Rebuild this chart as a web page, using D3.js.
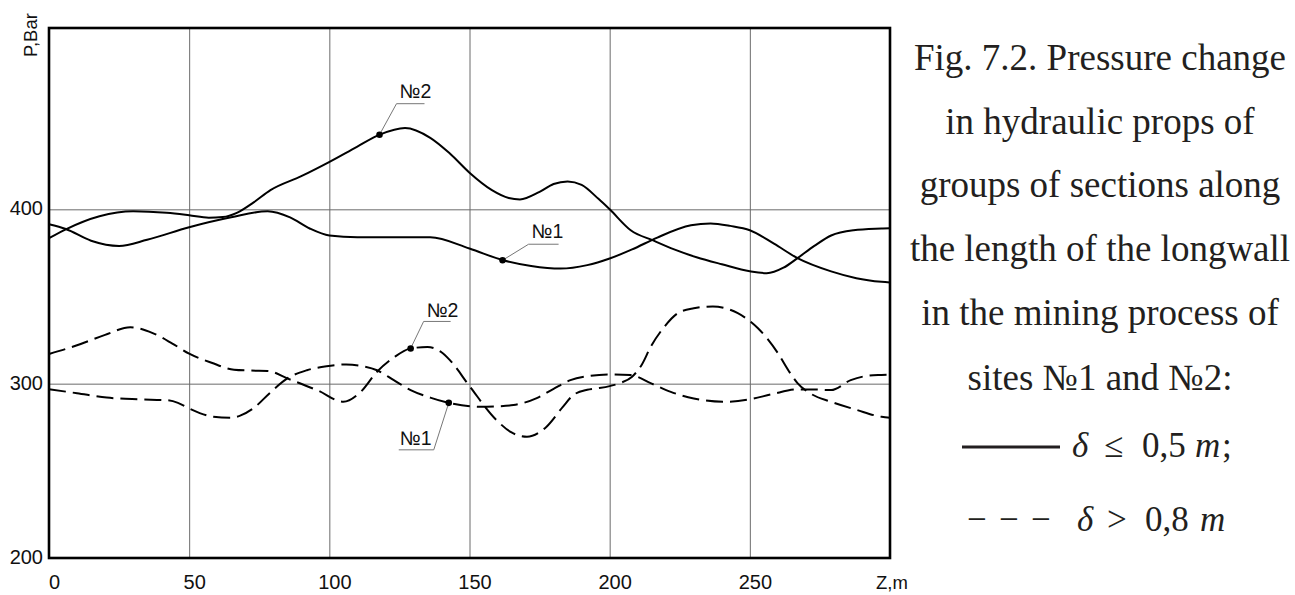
<!DOCTYPE html>
<html><head><meta charset="utf-8">
<script src="https://cdn.jsdelivr.net/npm/d3@7"></script>
<style>body{margin:0;background:#fff;} svg{display:block}</style>
</head><body>
<svg id="chart" width="1295" height="595"></svg>
<script>
// ---- data ----
const zTicks = [0, 50, 100, 150, 200, 250];
const pTicks = [200, 300, 400];
const pGrid = [300, 400];

// solid (delta <= 0.5 m), site No1
const zSolid1 = [0, 6, 15, 25, 35, 50, 65, 78, 86, 93, 100, 110, 125, 136, 150, 162, 172, 182.5, 192, 200, 208, 217, 229, 236, 243, 250, 258.6, 267, 279, 288, 297, 300];
const pSolid1 = [391.4, 388.7, 382, 379, 382.5, 389.7, 395.4, 398.9, 395.4, 389, 385, 384, 384, 384, 377.5, 370.8, 367.5, 366, 368, 371.8, 377, 383.8, 390.8, 391.9, 390.5, 388, 380.3, 372, 364.4, 360.5, 358.4, 358];
// solid, site No2
const zSolid2 = [0, 6, 18, 30, 42, 50, 57, 62, 67, 73, 79, 90, 100.4, 110, 118, 127, 136, 143, 150, 158, 164, 168, 175, 180, 185, 190, 196, 200, 207.5, 215.7, 223, 231, 240, 250, 256, 262, 267, 273, 279, 287, 297, 300];
const pSolid2 = [383.4, 388.5, 396, 398.9, 398, 396.6, 395.2, 395.6, 398, 404, 411, 419, 427.5, 436, 442.8, 446.6, 441, 432, 421, 411, 406.5, 405.7, 410, 414.5, 416, 414, 406, 400, 388, 382, 377, 372.5, 368.5, 364.5, 363.4, 366.5, 372, 379, 385, 388, 389, 389.2];
// dashed (delta > 0.8 m), site No1
const zDash1 = [0, 10, 20.6, 32.5, 42, 46, 50, 58.6, 64.6, 68, 73, 79, 85, 92, 99, 106, 112, 117, 123, 129, 136, 142.6, 154, 160, 165.7, 174, 180, 186, 193, 200, 207.5, 215, 221.8, 230, 240.7, 250, 258, 267, 273, 279, 286, 292, 297, 300];
const pDash1 = [296.8, 294.5, 292, 291, 290.5, 289, 285.8, 281, 280.4, 281.5, 286, 295, 303, 307.7, 310, 311, 310, 307.7, 302, 296.3, 292, 289, 286.7, 287, 287.7, 291.7, 297, 302, 304.5, 305.3, 304.9, 300, 295.3, 291.5, 289.6, 291, 294, 296.7, 296.7, 296.3, 302, 304.5, 305, 305.2];
// dashed, site No2
const zDash2 = [0, 10, 20, 29, 37, 44, 50, 58, 66, 72, 78, 85, 96, 105, 111, 117, 123, 129, 135, 140, 143, 150, 159.5, 165, 170.5, 177.4, 183.3, 187, 192, 196, 200, 204, 208, 211.5, 214.6, 219.5, 224.3, 230, 236.8, 245.7, 252.9, 260, 264, 267, 272, 279, 288, 297, 300];
const pDash2 = [317, 322, 328, 332.3, 329, 323, 317.2, 312, 308, 307.5, 307.3, 303, 296, 289.6, 295, 306.8, 315, 320.2, 321, 318, 313.5, 298.6, 279.3, 272, 269.5, 275.2, 286.7, 293.4, 296.5, 297.4, 298.6, 300.5, 304, 311, 321, 332.6, 340.4, 343.2, 344.3, 340.4, 331.8, 317.5, 307, 300.3, 294, 289.6, 285, 281, 280.5];

// labelled points on the curves
const markerNames = ["№2", "№1", "№2", "№1"];
const markerZ = [117.9, 161.8, 129, 142.6];
const markerP = [442.8, 370.8, 320.2, 289];

// ---- layout ----
const svg = d3.select("#chart");
const x = d3.scaleLinear().domain([0, 300]).range([49, 890]);
const y = d3.scaleLinear().domain([200, 504]).range([558, 28]);
const sansFont = "'Liberation Sans', Arial, sans-serif";
const serifFont = "'Liberation Serif', 'Times New Roman', serif";

// grid
const gx = svg.append("g").attr("transform", `translate(0,${y(200)})`)
  .call(d3.axisBottom(x).tickValues(zTicks.slice(1)).tickSize(-(y(200) - y(504))).tickFormat(""));
gx.select(".domain").remove();
gx.selectAll("line").attr("stroke", "#6b6b6b").attr("stroke-width", 1);

const gy = svg.append("g").attr("transform", `translate(${x(0)},0)`)
  .call(d3.axisLeft(y).tickValues(pGrid).tickSize(-(x(300) - x(0))).tickFormat(""));
gy.select(".domain").remove();
gy.selectAll("line").attr("stroke", "#6b6b6b").attr("stroke-width", 1);

// curves
const line = d3.line().x(d => x(d[0])).y(d => y(d[1])).curve(d3.curveMonotoneX);
const series = [
  {z: zSolid1, p: pSolid1, dash: null},
  {z: zSolid2, p: pSolid2, dash: null},
  {z: zDash1, p: pDash1, dash: "17,7"},
  {z: zDash2, p: pDash2, dash: "17,7"}
];
series.forEach(s => {
  svg.append("path")
    .datum(d3.zip(s.z, s.p))
    .attr("d", line)
    .attr("fill", "none")
    .attr("stroke", "#000")
    .attr("stroke-width", 2)
    .attr("stroke-dasharray", s.dash);
});

// frame
svg.append("rect")
  .attr("x", x(0)).attr("y", y(504))
  .attr("width", x(300) - x(0)).attr("height", y(200) - y(504))
  .attr("fill", "none").attr("stroke", "#000").attr("stroke-width", 2.6);

// tick labels
const ax = svg.append("g").attr("transform", `translate(0,${y(200)})`)
  .call(d3.axisBottom(x).tickValues(zTicks).tickSize(0).tickPadding(17));
ax.select(".domain").remove();
ax.selectAll("text").attr("font-family", sansFont).attr("font-size", 20).attr("fill", "#111").attr("dx", 5);

const ay = svg.append("g").attr("transform", `translate(${x(0)},0)`)
  .call(d3.axisLeft(y).tickValues(pTicks).tickSize(0).tickPadding(6));
ay.select(".domain").remove();
ay.selectAll("text").attr("font-family", sansFont).attr("font-size", 20).attr("fill", "#111").attr("dy", "0.28em");

// axis titles
svg.append("text").attr("transform", "translate(37,57) rotate(-90)")
  .attr("font-family", sansFont).attr("font-size", 18.5).attr("fill", "#111").text("P,Bar");
svg.append("text").attr("x", 892).attr("y", 589).attr("text-anchor", "middle")
  .attr("font-family", sansFont).attr("font-size", 18.5).attr("fill", "#111").text("Z,m");

// callouts: leader end offset, underline length, text offset
const callouts = [
  {lx: 17, ly: -31, ux: 28, tx: 20, ty: -37},
  {lx: 26, ly: -16, ux: 30, tx: 29, ty: -22},
  {lx: 13, ly: -27, ux: 27, tx: 16, ty: -31},
  {lx: -15, ly: 47, ux: -35, tx: -49, ty: 42}
];
markerNames.forEach((name, i) => {
  const mx = x(markerZ[i]), my = y(markerP[i]);
  const c = callouts[i];
  svg.append("line").attr("x1", mx).attr("y1", my).attr("x2", mx + c.lx).attr("y2", my + c.ly)
    .attr("stroke", "#777").attr("stroke-width", 1);
  svg.append("line").attr("x1", mx + c.lx).attr("y1", my + c.ly).attr("x2", mx + c.lx + c.ux).attr("y2", my + c.ly)
    .attr("stroke", "#777").attr("stroke-width", 1);
  svg.append("circle").attr("cx", mx).attr("cy", my).attr("r", 3.3).attr("fill", "#000");
  svg.append("text").attr("x", mx + c.tx).attr("y", my + c.ty)
    .attr("font-family", sansFont).attr("font-size", 19.5).attr("fill", "#111").text(name);
});

// caption
const caption = ["Fig. 7.2. Pressure change", "in hydraulic props of", "groups of sections along",
  "the length of the longwall", "in the mining process of", "sites №1 and №2:"];
const captionY = [70, 134, 197, 261, 325, 390];
caption.forEach((t, i) => {
  svg.append("text").attr("x", 1100).attr("y", captionY[i]).attr("text-anchor", "middle")
    .attr("font-family", serifFont).attr("font-size", 37).attr("fill", "#231f20").text(t);
});

// legend lines (math)
svg.append("line").attr("x1", 962).attr("x2", 1060).attr("y1", 447).attr("y2", 447)
  .attr("stroke", "#231f20").attr("stroke-width", 3);
function mathPiece(txt, px, py, italic) {
  svg.append("text").attr("x", px).attr("y", py)
    .attr("font-family", serifFont).attr("font-size", 35).attr("fill", "#231f20")
    .attr("font-style", italic ? "italic" : "normal").text(txt);
}
mathPiece("δ", 1072, 457, true);
mathPiece("≤", 1104, 457, false);
mathPiece("0,5", 1142, 457, false);
mathPiece("m", 1195, 457, true);
mathPiece(";", 1222, 457, false);

mathPiece("−", 967, 531, false);
mathPiece("−", 999, 531, false);
mathPiece("−", 1031, 531, false);
mathPiece("δ", 1077, 531, true);
mathPiece(">", 1107, 531, false);
mathPiece("0,8", 1145, 531, false);
mathPiece("m", 1200, 531, true);
</script>
</body></html>
